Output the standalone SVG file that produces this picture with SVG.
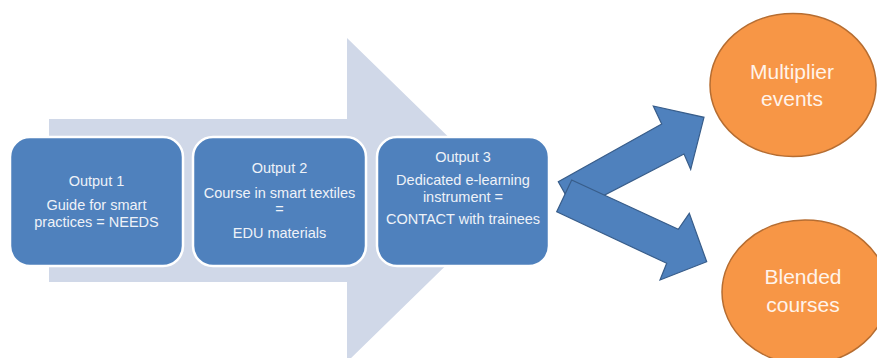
<svg xmlns="http://www.w3.org/2000/svg" width="877" height="358" viewBox="0 0 877 358">
<style>
.box{fill:#4F81BD;stroke:#FFFFFF;stroke-width:2.5}
.bt{font-family:"Liberation Sans",Arial,sans-serif;font-size:14.5px;fill:#EEF2F8;text-anchor:middle}
.ell{fill:#F79646;stroke:#B66D31;stroke-width:1.5}
.et{font-family:"Liberation Sans",Arial,sans-serif;font-size:21px;fill:#FFF3EA;text-anchor:middle}
.blk{fill:#4F81BD;stroke:#385D8A;stroke-width:1.2;stroke-linejoin:miter}
</style>
<rect width="877" height="358" fill="#FFFFFF"/>
<g id="process-arrow">
<polygon points="49,119 347,119 347,38 513,200 347,362 347,282 49,282" fill="#D0D8E8"/>
</g>
<g id="output1">
<rect class="box" x="10" y="137" width="173" height="129" rx="20" ry="20"/>
<text class="bt" x="96.5" y="185.5">Output 1</text>
<text class="bt" x="96.5" y="210">Guide for smart</text>
<text class="bt" x="96.5" y="227">practices = NEEDS</text>
</g>
<g id="output2">
<rect class="box" x="193" y="137" width="173" height="129" rx="20" ry="20"/>
<text class="bt" x="279.5" y="173">Output 2</text>
<text class="bt" x="279.5" y="197.5">Course in smart textiles</text>
<text class="bt" x="279.5" y="214">=</text>
<text class="bt" x="279.5" y="238">EDU materials</text>
</g>
<g id="output3">
<rect class="box" x="377" y="137" width="172" height="129" rx="20" ry="20"/>
<text class="bt" x="463" y="161.5">Output 3</text>
<text class="bt" x="463" y="185">Dedicated e-learning</text>
<text class="bt" x="463" y="202">instrument =</text>
<text class="bt" x="463" y="224">CONTACT with trainees</text>
</g>
<g id="connectors">
<polygon class="blk" points="574.5,210.6 558.3,181.7 661.7,124 653.3,106 704,117.3 690.7,169.3 684,154"/>
<polygon class="blk" points="571.7,180 678.3,229.3 689.3,213.3 706.7,261.7 660,280 666.7,263.3 556.7,211.7"/>
</g>
<g id="multiplier-events">
<ellipse class="ell" cx="793" cy="85" rx="83" ry="71.5"/>
<text class="et" x="792" y="78.5">Multiplier</text>
<text class="et" x="792" y="106">events</text>
</g>
<g id="blended-courses">
<ellipse class="ell" cx="805" cy="292" rx="83" ry="72"/>
<text class="et" x="803" y="283.5">Blended</text>
<text class="et" x="803" y="311.5">courses</text>
</g>
</svg>
